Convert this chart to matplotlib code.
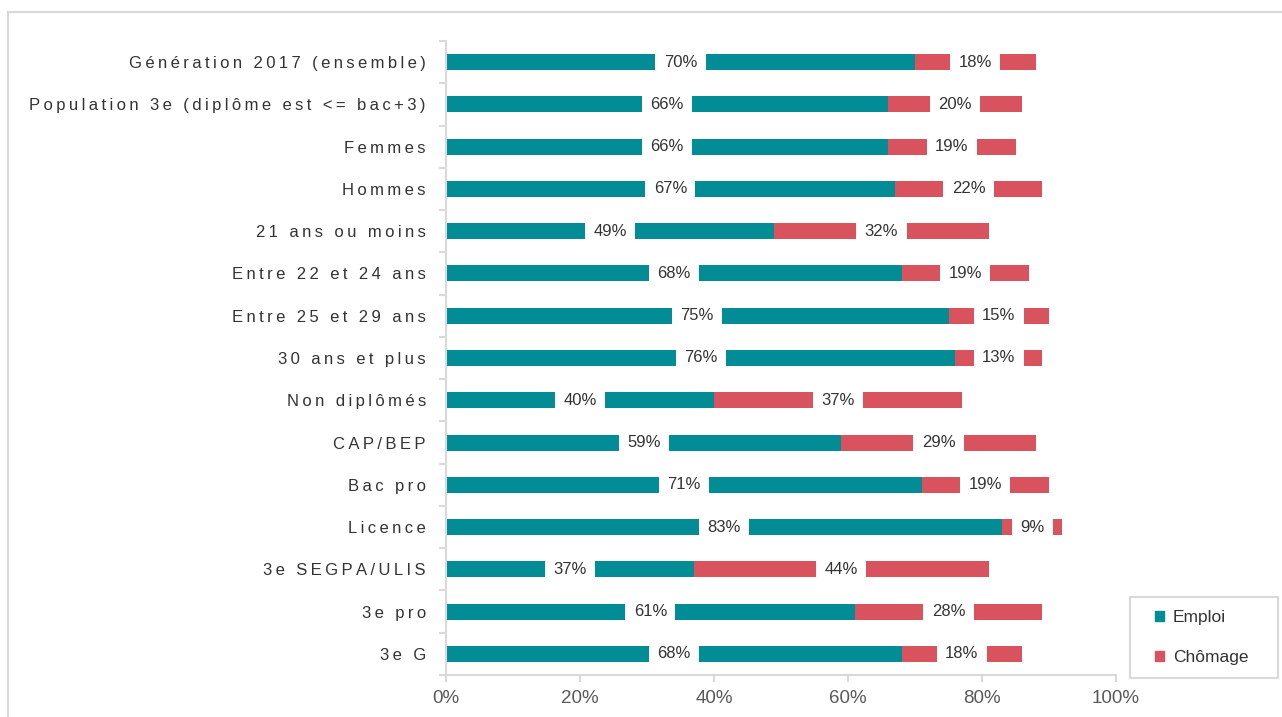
import matplotlib
matplotlib.use('Agg')
import matplotlib.pyplot as plt
from matplotlib.patches import Patch, Rectangle
from matplotlib.lines import Line2D
import numpy as np

plt.rcParams['font.family'] = ['Liberation Sans', 'DejaVu Sans']

categories = ['Génération 2017 (ensemble)', 'Population 3e (diplôme est <= bac+3)',
              'Femmes', 'Hommes', '21 ans ou moins', 'Entre 22 et 24 ans',
              'Entre 25 et 29 ans', '30 ans et plus', 'Non diplômés', 'CAP/BEP',
              'Bac pro', 'Licence', '3e SEGPA/ULIS', '3e pro', '3e G']
emploi = [70, 66, 66, 67, 49, 68, 75, 76, 40, 59, 71, 83, 37, 61, 68]
chomage = [18, 20, 19, 22, 32, 19, 15, 13, 37, 29, 19, 9, 44, 28, 18]
series_names = ['Emploi', 'Chômage']

c_emploi = '#028C96'
c_chomage = '#D8535E'
grey = '#D9D9D9'
txt = '#333333'

W, H = 1282, 717
fig = plt.figure(figsize=(W / 100, H / 100), dpi=100)
ax = fig.add_axes([446 / W, 1 - 675 / H, (1116 - 446) / W, (675 - 41) / H])

y = np.arange(len(categories))
ax.barh(y, emploi, height=0.38, color=c_emploi)
ax.barh(y, chomage, left=emploi, height=0.38, color=c_chomage)

# étiquettes de données avec fond blanc
for i in range(len(categories)):
    for start, val in ((0, emploi[i]), (emploi[i], chomage[i])):
        ax.text(start + val / 2, i, f'{val}%', ha='center', va='center',
                fontsize=12, color=txt,
                bbox=dict(boxstyle='square,pad=0.5', fc='white', ec='none'))

ax.set_xlim(0, 100)
ax.set_ylim(len(categories) - 0.5, -0.5)
ax.set_xticks(np.arange(0, 101, 20))
ax.set_xticklabels([f'{v}%' for v in range(0, 101, 20)], fontsize=13.5, color='#595959')
ax.tick_params(axis='x', length=5, color=grey, width=1.5, pad=6)

spaced = ['\u2009'.join(c) for c in categories]
ax.set_yticks(y)
ax.set_yticklabels(spaced, fontsize=12, color=txt)
ax.set_yticks(np.arange(-0.5, len(categories)), minor=True)
ax.tick_params(axis='y', which='major', length=0, pad=14.5)
ax.tick_params(axis='y', which='minor', length=5, color=grey, width=1.5)

for s in ['top', 'right']:
    ax.spines[s].set_visible(False)
for s in ['left', 'bottom']:
    ax.spines[s].set_color(grey)
    ax.spines[s].set_linewidth(1.5)

# légende
fig.add_artist(Rectangle((1130 / W, 1 - 678 / H), 148 / W, 81 / H,
                         transform=fig.transFigure, fc='white', ec=grey, lw=1.5))
handles = [Patch(color=c_emploi), Patch(color=c_chomage)]
leg = fig.legend(handles, series_names, loc='upper left',
                 bbox_to_anchor=(1155 / W, 1 - 610 / H),
                 borderaxespad=0, borderpad=0, fontsize=12.5, frameon=False,
                 handlelength=0.52, handleheight=0.52, handletextpad=0.5,
                 labelspacing=1.45)
for t in leg.get_texts():
    t.set_color(txt)

# cadre du graphique
fig.add_artist(Line2D([8 / W, 1], [1 - 12 / H, 1 - 12 / H], color=grey, lw=1.5))
fig.add_artist(Line2D([8 / W, 8 / W], [0, 1 - 12 / H], color=grey, lw=1.5))

fig.savefig('out.png', dpi=100)
